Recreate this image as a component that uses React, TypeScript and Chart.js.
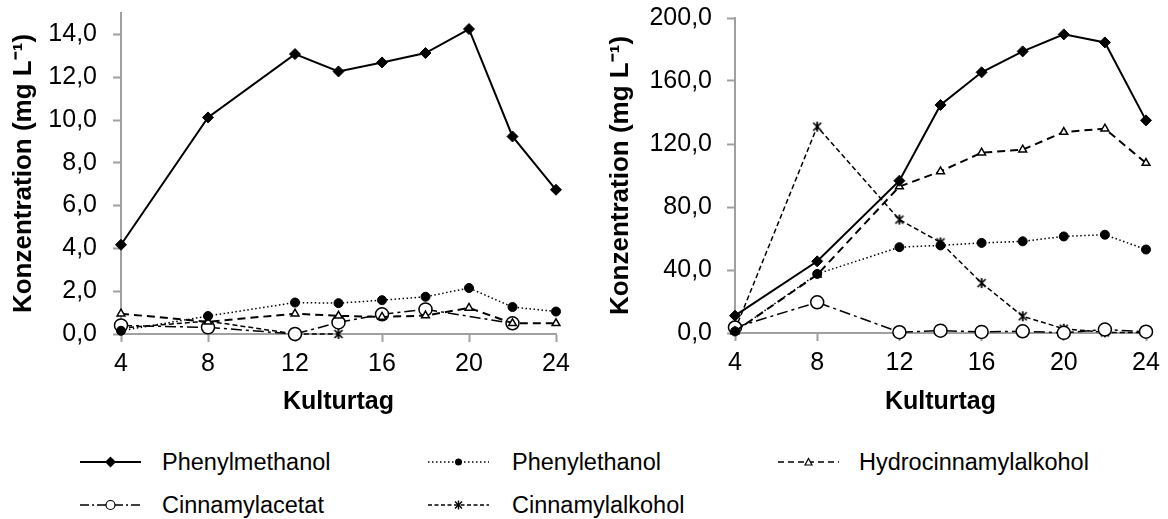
import React, { useEffect, useRef } from 'react';
import { Chart, registerables } from 'chart.js';

Chart.register(...registerables);

// ---- data ----
const days = [4, 8, 12, 14, 16, 18, 20, 22, 24];
const xTickValues = [4, 8, 12, 16, 20, 24];
const seriesNames = ['Phenylmethanol', 'Phenylethanol', 'Hydrocinnamylalkohol', 'Cinnamylacetat', 'Cinnamylalkohol'];

const leftPhenylmethanol = [4.17, 10.12, 13.08, 12.27, 12.69, 13.13, 14.25, 9.23, 6.74];
const leftPhenylethanol = [0.15, 0.84, 1.47, 1.44, 1.58, 1.74, 2.15, 1.26, 1.05];
const leftHydrocinnamylalkohol = [0.95, 0.57, 0.95, 0.85, 0.8, 0.86, 1.22, 0.5, 0.5];
const leftCinnamylacetat = [0.4, 0.31, 0.0, 0.54, 0.92, 1.15, null, 0.5, null];
const leftCinnamylalkohol = [0.28, 0.6, 0.0, 0.0, null, null, null, null, null];
const leftYTicks = [0, 2, 4, 6, 8, 10, 12, 14];
const leftYMax = 15;

const rightPhenylmethanol = [11, 45.5, 96.7, 144.8, 165.5, 178.8, 189.6, 184.5, 135];
const rightPhenylethanol = [1, 37.5, 54.5, 55.6, 57.2, 58.2, 61.3, 62.4, 53];
const rightHydrocinnamylalkohol = [1, 37, 93, 102.6, 114.5, 116.4, 127.6, 129.7, 107.9];
const rightCinnamylacetat = [3.5, 19.5, 0.5, 1.5, 0.7, 1.1, 0.1, 2.2, 0.8];
const rightCinnamylalkohol = [2, 131, 72, 57.5, 31.7, 10.6, 2.7, 0.4, 0.2];
const rightYTicks = [0, 40, 80, 120, 160, 200];
const rightYMax = 200;

const xTitle = 'Kulturtag';
const yTitle = 'Konzentration (mg L\u207B\u00B9)';

const FONT = '"Liberation Sans", Arial, sans-serif';
const AXIS_GRAY = '#a0a0a0';

function makeStar(): HTMLCanvasElement {
  const c = document.createElement('canvas');
  c.width = 12;
  c.height = 12;
  const g = c.getContext('2d')!;
  g.strokeStyle = '#000';
  g.lineWidth = 1.7;
  g.beginPath();
  g.moveTo(2, 2); g.lineTo(10, 10);
  g.moveTo(10, 2); g.lineTo(2, 10);
  g.moveTo(6, 1); g.lineTo(6, 11);
  g.stroke();
  return c;
}

function buildDatasets(values: (number | null)[][], star: HTMLCanvasElement) {
  const styles: any[] = [
    { borderWidth: 2, borderDash: [], pointStyle: 'rectRot', pointRadius: 5.5, pointBackgroundColor: '#000', pointBorderWidth: 1 },
    { borderWidth: 1.5, borderDash: [1.5, 2.5], pointStyle: 'circle', pointRadius: 4.5, pointBackgroundColor: '#000', pointBorderWidth: 1 },
    { borderWidth: 2, borderDash: [8, 5], pointStyle: 'triangle', pointRadius: 4.5, pointBackgroundColor: '#fff', pointBorderWidth: 1.5 },
    { borderWidth: 1.5, borderDash: [11, 4, 3, 4], pointStyle: 'circle', pointRadius: 6.5, pointBackgroundColor: '#fff', pointBorderWidth: 1.5 },
    { borderWidth: 1.5, borderDash: [5, 3], pointStyle: star, pointRadius: 6, pointBackgroundColor: '#000', pointBorderWidth: 1 },
  ];
  return styles.map((st, i) => ({
    label: seriesNames[i],
    data: days.map((d, j) => ({ x: d, y: values[i][j] })),
    borderColor: '#000',
    pointBorderColor: '#000',
    showLine: true,
    spanGaps: true,
    clip: false,
    tension: 0,
    ...st,
  }));
}

function fmt(v: number) {
  return v.toFixed(1).replace('.', ',');
}

function makeConfig(values: (number | null)[][], yTicks: number[], yMax: number, star: HTMLCanvasElement, geo: any): any {
  return {
    type: 'scatter',
    data: { datasets: buildDatasets(values, star) },
    options: {
      animation: false,
      responsive: true,
      maintainAspectRatio: false,
      layout: { autoPadding: false, padding: { left: 0, right: geo.padRight, top: geo.padTop, bottom: 0 } },
      plugins: { legend: { display: false }, tooltip: { enabled: false } },
      scales: {
        x: {
          type: 'linear',
          min: 4,
          max: 24,
          afterBuildTicks: (s: any) => { s.ticks = xTickValues.map((v) => ({ value: v })); },
          afterFit: (s: any) => { s.height = geo.xHeight; s.paddingLeft = 0; s.paddingRight = 0; s.paddingTop = 0; s.paddingBottom = 0; },
          grid: { drawOnChartArea: false, drawTicks: true, tickLength: 8, tickColor: AXIS_GRAY, tickWidth: 2 },
          border: { display: true, color: AXIS_GRAY, width: 2 },
          ticks: { color: '#000', font: { family: FONT, size: 25 }, padding: 7, maxRotation: 0, callback: (v: any) => String(v) },
          title: { display: true, text: xTitle, color: '#000', font: { family: FONT, size: 25, weight: 'bold' }, padding: { top: 0, bottom: 3 } },
        },
        y: {
          type: 'linear',
          min: 0,
          max: yMax,
          afterBuildTicks: (s: any) => { s.ticks = yTicks.map((v) => ({ value: v })); },
          afterFit: (s: any) => { s.width = geo.yWidth; s.paddingLeft = 0; s.paddingRight = 0; s.paddingTop = 0; s.paddingBottom = 0; },
          grid: { drawOnChartArea: false, drawTicks: true, tickLength: 8, tickColor: AXIS_GRAY, tickWidth: 2 },
          border: { display: true, color: AXIS_GRAY, width: 2 },
          ticks: { color: '#000', font: { family: FONT, size: 25 }, padding: geo.yPad, callback: (v: any) => fmt(Number(v)) },
          title: { display: true, text: yTitle, color: '#000', font: { family: FONT, size: 26, weight: 'bold' }, padding: { top: geo.yTitlePad, bottom: 0 } },
        },
      },
    },
  };
}

function LegendSample({ kind }: { kind: number }) {
  const w = 61;
  const h = 20;
  const cy = h / 2;
  const cx = w / 2;
  const dashes = ['', '1.5 2.5', '6 4', '9 3 2 3', '4 2.5'];
  const widths = [2, 1.5, 1.5, 1.5, 1.5];
  let marker: any = null;
  if (kind === 0) marker = <polygon points={`${cx},${cy - 5.5} ${cx + 5.5},${cy} ${cx},${cy + 5.5} ${cx - 5.5},${cy}`} fill="#000" />;
  if (kind === 1) marker = <circle cx={cx} cy={cy} r={3.5} fill="#000" />;
  if (kind === 2) marker = <polygon points={`${cx},${cy - 3.5} ${cx + 3.5},${cy + 3} ${cx - 3.5},${cy + 3}`} fill="#fff" stroke="#000" strokeWidth={1.2} />;
  if (kind === 3) marker = <circle cx={cx} cy={cy} r={4.5} fill="#fff" stroke="#000" strokeWidth={1.2} />;
  if (kind === 4) marker = (
    <g stroke="#000" strokeWidth={1.4}>
      <line x1={cx - 3.5} y1={cy - 3.5} x2={cx + 3.5} y2={cy + 3.5} />
      <line x1={cx + 3.5} y1={cy - 3.5} x2={cx - 3.5} y2={cy + 3.5} />
      <line x1={cx} y1={cy - 4.5} x2={cx} y2={cy + 4.5} />
    </g>
  );
  return (
    <svg width={w} height={h} style={{ position: 'absolute', left: -w / 2, top: -h / 2 }}>
      <line x1={0} y1={cy} x2={w} y2={cy} stroke="#000" strokeWidth={widths[kind]} strokeDasharray={dashes[kind] || undefined} />
      {marker}
    </svg>
  );
}

const legendItems = [
  { kind: 0, mx: 110, tx: 162, y: 462 },
  { kind: 1, mx: 458, tx: 512, y: 462 },
  { kind: 2, mx: 808, tx: 859, y: 462 },
  { kind: 3, mx: 110, tx: 162, y: 505 },
  { kind: 4, mx: 458, tx: 512, y: 505 },
];

export default function App() {
  const leftRef = useRef<HTMLCanvasElement>(null);
  const rightRef = useRef<HTMLCanvasElement>(null);

  useEffect(() => {
    const star = makeStar();
    const left = new Chart(
      leftRef.current!,
      makeConfig(
        [leftPhenylmethanol, leftPhenylethanol, leftHydrocinnamylalkohol, leftCinnamylacetat, leftCinnamylalkohol],
        leftYTicks,
        leftYMax,
        star,
        { padRight: 34, padTop: 13, xHeight: 86, yWidth: 121, yPad: 16, yTitlePad: 8 }
      )
    );
    const right = new Chart(
      rightRef.current!,
      makeConfig(
        [rightPhenylmethanol, rightPhenylethanol, rightHydrocinnamylalkohol, rightCinnamylacetat, rightCinnamylalkohol],
        rightYTicks,
        rightYMax,
        star,
        { padRight: 22, padTop: 18, xHeight: 87, yWidth: 145, yPad: 15, yTitlePad: 15 }
      )
    );
    return () => {
      left.destroy();
      right.destroy();
    };
  }, []);

  return (
    <div style={{ position: 'absolute', left: 0, top: 0, width: 1168, height: 519, background: '#fff', fontFamily: FONT, overflow: 'hidden' }}>
      <div style={{ position: 'absolute', left: 0, top: 0, width: 590, height: 420 }}>
        <canvas ref={leftRef} />
      </div>
      <div style={{ position: 'absolute', left: 590, top: 0, width: 578, height: 420 }}>
        <canvas ref={rightRef} />
      </div>
      {legendItems.map((it) => (
        <React.Fragment key={it.kind}>
          <div style={{ position: 'absolute', left: it.mx, top: it.y, width: 0, height: 0 }}>
            <LegendSample kind={it.kind} />
          </div>
          <div style={{ position: 'absolute', left: it.tx, top: it.y - 14, height: 28, lineHeight: '28px', fontSize: 23.5, color: '#000', whiteSpace: 'nowrap' }}>
            {seriesNames[it.kind]}
          </div>
        </React.Fragment>
      ))}
    </div>
  );
}
